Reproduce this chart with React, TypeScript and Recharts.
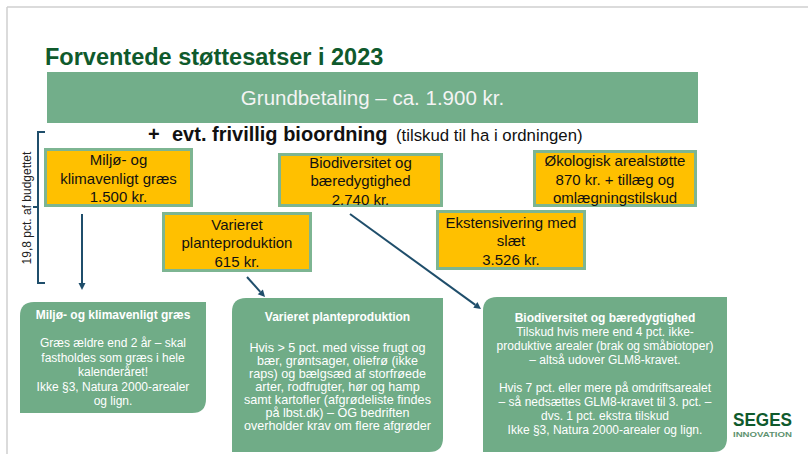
import React from "react";
import { ComposedChart, ReferenceArea, ReferenceLine, XAxis, YAxis } from "recharts";

const FONT = '"Liberation Sans", Arial, Helvetica, sans-serif';

// ------------------------------------------------------------
// Texts
// ------------------------------------------------------------

const headline = "Forventede støttesatser i 2023";
const basePayment = "Grundbetaling – ca. 1.900 kr.";
const bioPlus = "+";
const bioLabel = "evt. frivillig bioordning";
const bioNote = "(tilskud til ha i ordningen)";
const budgetShare = "19,8 pct. af budgettet";

const schemeNames = [
  ["Miljø- og", "klimavenligt græs"],
  ["Varieret", "planteproduktion"],
  ["Biodiversitet og", "bæredygtighed"],
  ["Ekstensivering med", "slæt"],
  ["Økologisk arealstøtte"],
];

const schemeRates = ["1.500 kr.", "615 kr.", "2.740 kr.", "3.526 kr.", "870 kr. + tillæg og"];

const schemeExtras = [[], [], [], [], ["omlægningstilskud"]];

const detailTitles = [
  "Miljø- og klimavenligt græs",
  "Varieret planteproduktion",
  "Biodiversitet og bæredygtighed",
];

const detailBodies = [
  [
    "Græs ældre end 2 år – skal",
    "fastholdes som græs i hele",
    "kalenderåret!",
    "Ikke §3, Natura 2000-arealer",
    "og lign.",
  ],
  [
    "Hvis > 5 pct. med visse frugt og",
    "bær, grøntsager, oliefrø (ikke",
    "raps) og bælgsæd af storfrøede",
    "arter, rodfrugter, hør og hamp",
    "samt kartofler  (afgrødeliste findes",
    "på lbst.dk) – OG bedriften",
    "overholder krav om flere afgrøder",
  ],
  [
    "Tilskud hvis mere end 4 pct. ikke-",
    "produktive arealer (brak og småbiotoper)",
    "– altså udover GLM8-kravet.",
    "",
    "Hvis 7 pct. eller mere på omdriftsarealet",
    "– så nedsættes GLM8-kravet til 3. pct. –",
    "dvs. 1 pct. ekstra tilskud",
    "Ikke §3, Natura 2000-arealer og lign.",
  ],
];

const logoWord = "SEGES";
const logoSub = "INNOVATION";

// ------------------------------------------------------------
// Layout (slide coordinates, y grows downward)
// ------------------------------------------------------------

const schemeBoxes = [
  { x1: 44, x2: 193, y1: 148, y2: 207 },
  { x1: 162, x2: 312, y1: 212, y2: 272 },
  { x1: 278, x2: 443, y1: 153, y2: 207 },
  { x1: 436, x2: 586, y1: 210, y2: 270 },
  { x1: 533, x2: 697, y1: 150, y2: 207 },
];

const detailBoxes = [
  { x1: 20, x2: 206, y1: 302, y2: 413, titleY: 315, bodyY: 343, lh: 14.5, fs: 12 },
  { x1: 232, x2: 443, y1: 298, y2: 452, titleY: 317, bodyY: 348, lh: 13, fs: 12.6 },
  { x1: 483, x2: 727, y1: 297, y2: 452, titleY: 318, bodyY: 332, lh: 13.9, fs: 12 },
];

const arrows = [
  { x1: 82, y1: 214, x2: 82, y2: 290 },
  { x1: 247, y1: 277, x2: 265, y2: 297 },
  { x1: 350, y1: 214, x2: 481, y2: 309 },
];

const bracket = [
  { x1: 38, y1: 132, x2: 38, y2: 283 },
  { x1: 37, y1: 132, x2: 45, y2: 132 },
  { x1: 37, y1: 283, x2: 45, y2: 283 },
  { x1: 33, y1: 207, x2: 38, y2: 207 },
];

const frame = [
  { x1: 7, y1: 7, x2: 7, y2: 454 },
  { x1: 7, y1: 7, x2: 808, y2: 7 },
];

const corners = [
  { x: 0, y: 0 },
  { x: 808, y: 454 },
];

//------------------------------------------------------------
// Shapes
//------------------------------------------------------------

const diagonalRounded = (props: any) => {
  const { x, y, width, height, fill } = props;
  const r = 14;
  const d = `M${x + r},${y} H${x + width} V${y + height - r} Q${x + width},${y + height} ${x + width - r},${y + height} H${x} V${y + r} Q${x},${y} ${x + r},${y} Z`;
  return <path d={d} fill={fill} />;
};

const arrowLine = (props: any) => {
  const { x1, y1, x2, y2 } = props;
  const ang = Math.atan2(y2 - y1, x2 - x1);
  const len = 7;
  const half = 3.5;
  const bx = x2 - len * Math.cos(ang);
  const by = y2 - len * Math.sin(ang);
  const px = -Math.sin(ang) * half;
  const py = Math.cos(ang) * half;
  return (
    <g>
      <line x1={x1} y1={y1} x2={bx} y2={by} stroke="#1f4e6b" strokeWidth={2} />
      <polygon
        points={`${x2},${y2} ${bx + px},${by + py} ${bx - px},${by - py}`}
        fill="#1f4e6b"
      />
    </g>
  );
};

//------------------------------------------------------------
// Label renderers
//------------------------------------------------------------

const schemeLabel = (lines: string[]) => (props: any) => {
  const { x, y, width, height } = props.viewBox;
  const lh = 18.5;
  const cx = x + width / 2;
  const cy = y + height / 2 + 1;
  const top = cy - ((lines.length - 1) * lh) / 2;
  return (
    <g>
      {lines.map((t, i) => (
        <text
          key={i}
          x={cx}
          y={top + i * lh + 5.3}
          textAnchor="middle"
          fontFamily={FONT}
          fontSize={15}
          fill="#111"
        >
          {t}
        </text>
      ))}
    </g>
  );
};

const detailLabel = (title: string, body: string[], box: any) => (props: any) => {
  const { x, width } = props.viewBox;
  const cx = x + width / 2;
  return (
    <g fontFamily={FONT} fill="#fff" textAnchor="middle">
      <text x={cx} y={box.titleY + 4.3} fontSize={12} fontWeight={700}>
        {title}
      </text>
      {body.map((t, i) => (
        <text key={i} x={cx} y={box.bodyY + i * box.lh + 4.4} fontSize={box.fs}>
          {t}
        </text>
      ))}
    </g>
  );
};

const headlineLabel = (props: any) => {
  const { x, y } = props.viewBox;
  return (
    <text x={x} y={y + 17} fontFamily={FONT} fontSize={23.5} fontWeight={700} fill="#0f5a2c">
      {headline}
    </text>
  );
};

const baseLabel = (props: any) => {
  const { x, y, width, height } = props.viewBox;
  return (
    <text
      x={x + width / 2}
      y={y + height / 2 + 7}
      textAnchor="middle"
      fontFamily={FONT}
      fontSize={20.5}
      fill="#f4f4f4"
    >
      {basePayment}
    </text>
  );
};

const bioLabelRender = (props: any) => {
  const { x, y } = props.viewBox;
  const base = y + 16;
  return (
    <g fontFamily={FONT} fill="#111">
      <text x={x} y={base} fontSize={20} fontWeight={700}>
        {bioPlus}
      </text>
      <text x={x + 24} y={base} fontSize={20} fontWeight={700}>
        {bioLabel}
      </text>
      <text x={x + 248} y={base} fontSize={16.8}>
        {bioNote}
      </text>
    </g>
  );
};

const budgetLabel = (props: any) => {
  const { x, y, width, height } = props.viewBox;
  const cx = x + width / 2;
  const cy = y + height / 2;
  return (
    <text
      x={cx}
      y={cy}
      transform={`rotate(-90 ${cx} ${cy})`}
      dy={4}
      textAnchor="middle"
      fontFamily={FONT}
      fontSize={12}
      fill="#222"
    >
      {budgetShare}
    </text>
  );
};

const logoLabel = (props: any) => {
  const { x, y } = props.viewBox;
  return (
    <g fontFamily={FONT} fontWeight={700}>
      <text
        x={x}
        y={y + 13.5}
        fontSize={18}
        fill="#0f5a2c"
        textLength={59}
        lengthAdjust="spacingAndGlyphs"
      >
        {logoWord}
      </text>
      <text
        x={x}
        y={y + 24.5}
        fontSize={7.5}
        fill="#5e9270"
        textLength={59}
        lengthAdjust="spacingAndGlyphs"
      >
        {logoSub}
      </text>
    </g>
  );
};

export default function App() {
  return (
    <div style={{ position: "absolute", left: 0, top: 0, background: "#fff" }}>
      <ComposedChart
        width={808}
        height={454}
        data={corners}
        margin={{ top: 0, right: 0, bottom: 0, left: 0 }}
      >
        <XAxis type="number" dataKey="x" domain={[0, 808]} hide />
        <YAxis type="number" dataKey="y" domain={[0, 454]} reversed hide />

        {frame.map((s, i) => (
          <ReferenceLine
            key={`f${i}`}
            segment={[
              { x: s.x1, y: s.y1 },
              { x: s.x2, y: s.y2 },
            ]}
            stroke="#cfcfcf"
            strokeWidth={1.5}
          />
        ))}

        <ReferenceArea x1={45} x2={390} y1={48} y2={67} fill="none" label={{ content: headlineLabel }} />

        <ReferenceArea
          x1={47}
          x2={698}
          y1={72}
          y2={123}
          fill="#72ae8a"
          fillOpacity={1}
          stroke="none"
          label={{ content: baseLabel }}
        />

        <ReferenceArea x1={148} x2={585} y1={125} y2={145} fill="none" label={{ content: bioLabelRender }} />

        {bracket.map((s, i) => (
          <ReferenceLine
            key={`b${i}`}
            segment={[
              { x: s.x1, y: s.y1 },
              { x: s.x2, y: s.y2 },
            ]}
            stroke="#1f4e6b"
            strokeWidth={2}
          />
        ))}

        <ReferenceArea x1={20} x2={34} y1={150} y2={266} fill="none" label={{ content: budgetLabel }} />

        {schemeBoxes.map((b, i) => (
          <ReferenceArea
            key={`s${i}`}
            x1={b.x1 + 1.5}
            x2={b.x2 - 1.5}
            y1={b.y1 + 1.5}
            y2={b.y2 - 1.5}
            fill="#ffc000"
            fillOpacity={1}
            stroke="#7db592"
            strokeWidth={3}
            label={{
              content: schemeLabel([...schemeNames[i], schemeRates[i], ...schemeExtras[i]]),
            }}
          />
        ))}

        {arrows.map((a, i) => (
          <ReferenceLine
            key={`a${i}`}
            segment={[
              { x: a.x1, y: a.y1 },
              { x: a.x2, y: a.y2 },
            ]}
            shape={arrowLine}
          />
        ))}

        {detailBoxes.map((b, i) => (
          <ReferenceArea
            key={`d${i}`}
            x1={b.x1}
            x2={b.x2}
            y1={b.y1}
            y2={b.y2}
            fill="#70ac87"
            fillOpacity={1}
            shape={diagonalRounded}
            label={{ content: detailLabel(detailTitles[i], detailBodies[i], b) }}
          />
        ))}

        <ReferenceArea x1={733} x2={792} y1={412} y2={437} fill="none" label={{ content: logoLabel }} />
      </ComposedChart>
    </div>
  );
}
